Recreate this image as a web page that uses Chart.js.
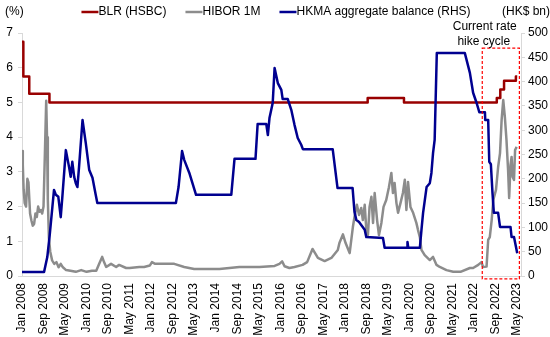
<!DOCTYPE html>
<html>
<head>
<meta charset="utf-8">
<script src="https://cdn.jsdelivr.net/npm/chart.js@4.4.0/dist/chart.umd.min.js"></script>
<style>
body { margin: 0; background: #fff; }
</style>
</head>
<body>
<canvas id="myChart" width="550" height="337"></canvas>
<script>
// x values are months counted from Jan 2008 (0 = Jan 2008)
var tickLabels = ["Jan 2008", "Sep 2008", "May 2009", "Jan 2010", "Sep 2010", "May 2011",
    "Jan 2012", "Sep 2012", "May 2013", "Jan 2014", "Sep 2014", "May 2015",
    "Jan 2016", "Sep 2016", "May 2017", "Jan 2018", "Sep 2018", "May 2019",
    "Jan 2020", "Sep 2020", "May 2021", "Jan 2022", "Sep 2022", "May 2023"];

// BLR (HSBC), %, change dates
var blrMonth = [0, 0.5, 2.7, 10.2, 128.5, 142, 176.5, 177.8, 179.2, 183.6, 184.1];
var blrRate = [6.75, 5.75, 5.25, 5.0, 5.125, 5.0, 5.125, 5.375, 5.625, 5.75, 5.75];

// HIBOR 1M, %
var hiborMonth = [0, 0.3, 0.6, 1.0, 1.5, 2.0, 2.4, 3.0, 3.5, 4.0, 4.5, 5.0, 5.5, 6.0, 6.5, 7.0, 7.5, 8.0,
    8.5, 9.0, 9.3, 9.6, 10.0, 10.5, 11.2, 12.0, 12.8, 13.6, 14.4, 15.2, 16.4, 18, 20, 22, 24, 26, 27.6,
    28.7, 29.8, 30.5, 31.3, 33.1, 35.0, 36.1, 38.7, 40, 43.6, 45.4, 47.5, 48.3, 49.5, 51, 56.6, 60.3,
    64, 73.4, 80.8, 88.3, 93.9, 95.7, 96.7, 97.6, 99.4, 101.3, 104.3, 106, 108, 110, 112.5, 115, 117.4,
    118, 119.3, 120.3, 121.8, 123, 123.6, 124.5, 125.3, 126.1, 126.7, 127.4, 128, 128.6, 129.2, 129.9,
    130.5, 131.1, 132, 132.7, 133.6, 134.4, 135.4, 136.4, 137.3, 137.9, 138.5, 139.2, 139.8, 140.7,
    141.6, 142.3, 142.9, 143.5, 144.4, 145.4, 146.6, 147.2, 147.9, 148.5, 149.7, 151.6, 152.8, 154.1,
    155.3, 157.8, 160.3, 163, 166.5, 167.7, 169.6, 170.8, 171.4, 172.7, 173.3, 173.9, 174.6, 175.2,
    176.2, 177, 177.7, 178.3, 178.9, 179.5, 180.1, 180.7, 181.1, 181.6, 182, 182.4, 182.9, 183.3, 183.9];
var hiborRate = [3.6, 3.2, 2.5, 2.1, 2.0, 2.8, 2.7, 1.8, 1.6, 1.45, 1.5, 1.8, 1.7, 2.0, 1.85, 1.9, 1.8, 2.0,
    3.5, 5.05, 4.0, 2.2, 1.1, 0.7, 0.45, 0.35, 0.4, 0.25, 0.35, 0.25, 0.17, 0.15, 0.12, 0.17, 0.12, 0.15, 0.15,
    0.35, 0.55, 0.4, 0.26, 0.35, 0.26, 0.32, 0.23, 0.23, 0.26, 0.26, 0.3, 0.4, 0.35, 0.35, 0.35, 0.26,
    0.2, 0.2, 0.26, 0.26, 0.29, 0.35, 0.42, 0.28, 0.23, 0.26, 0.32, 0.4, 0.78, 0.52, 0.43, 0.52, 0.75,
    0.95, 1.2, 0.95, 0.66, 1.41, 1.7, 2.05, 1.76, 1.96, 1.61, 2.05, 1.33, 1.18, 1.99, 2.28,
    1.53, 2.39, 1.61, 1.18, 1.53, 1.99, 2.19, 2.56, 2.97, 2.39, 2.68, 2.1, 1.82, 2.1,
    2.39, 2.77, 1.9, 2.71, 1.99, 1.82, 1.53, 1.33, 1.12, 0.75, 0.6, 0.46, 0.55, 0.32,
    0.26, 0.17, 0.12, 0.12, 0.23, 0.23, 0.32, 0.4, 0.26, 0.27, 1.04, 1.12, 1.61, 2.19,
    2.48, 3.14, 3.54, 4.5, 5.07, 4.58, 3.92, 3.05, 2.25, 3.2, 3.43, 2.85, 2.77, 3.63, 3.72];

// HKMA aggregate balance, HK$ bn (RHS)
var hkmaMonth = [0, 8.2, 9.4, 10.3, 11.3, 11.9, 12.6, 13.5, 14.4, 15.0, 16.3, 17.5, 18.1, 18.7, 19.4, 20,
    20.6, 21.2, 22.5, 23.7, 25, 26.2, 27.4, 28, 57.2, 58.2, 59.5, 60.3, 62.2, 64.7, 77.8, 79, 86.8, 87.6,
    90.8, 91.4, 92, 93.2, 93.9, 95.1, 96.4, 96.9, 98.8, 100.1, 101.3, 102.5, 103.8, 104.4, 115.5, 117.3,
    122.9, 123.6, 124.3, 125.3, 126.1, 127.4, 128, 134.2, 134.8, 143.2, 143.3, 143.6, 147.9, 148.5, 149.1,
    150.4, 151.6, 152.2, 152.8, 153.4, 154.2, 164.6, 166.5, 167.7, 169, 170, 172.1, 172.2, 173.3, 173.7,
    174.3, 174.9, 175.4, 177, 177.7, 181.6, 182, 182.9, 184.1];
var hkmaBalance = [8, 8, 39, 84, 142, 177, 167, 163, 121, 163, 259, 224, 204, 235, 204, 191,
    183, 224, 321, 274, 218, 202, 167, 150, 150, 183, 257, 239, 212, 167, 167, 241, 241, 313,
    313, 290, 325, 356, 428, 397, 383, 364, 364, 342, 311, 284, 270, 261, 261, 181,
    181, 132, 115, 111, 105, 95, 80, 78, 58, 58, 70, 58, 58, 95, 130,
    183, 191, 212, 253, 280, 459, 459, 418, 377, 356, 337, 337, 321, 321, 235,
    230, 171, 130, 130, 101, 101, 80, 80, 47];

// current rate hike cycle box: months and RHS range
var hikeMonths = [171.1, 184.9];
var hikeRange = [-6, 469];

function toPoints(xs, ys) {
    return xs.map(function (x, i) { return {x: x, y: ys[i]}; });
}

var FONT = '"Liberation Sans", Arial, sans-serif';
Chart.defaults.font.family = FONT;
Chart.defaults.font.size = 12;
Chart.defaults.color = '#000';

// legend, axis titles and the hike-cycle box
var extras = {
    id: 'extras',
    afterDraw: function (chart) {
        var c = chart.ctx;
        c.save();
        c.font = '12px ' + FONT;
        c.fillStyle = '#000';
        c.textBaseline = 'middle';
        c.textAlign = 'left';
        c.fillText('(%)', 5, 12);
        c.fillText('(HK$ bn)', 502, 12);

        var ds = chart.data.datasets;
        var sample = 17, gap = 19, total = gap * (ds.length - 1);
        ds.forEach(function (d) { total += sample + c.measureText(d.label).width; });
        var x = 276 - total / 2;
        ds.forEach(function (d) {
            c.strokeStyle = d.borderColor;
            c.lineWidth = 2.5;
            c.beginPath();
            c.moveTo(x, 12);
            c.lineTo(x + sample, 12);
            c.stroke();
            c.fillText(d.label, x + sample, 12);
            x += sample + c.measureText(d.label).width + gap;
        });

        var xs = chart.scales.x, yr = chart.scales.y1;
        var l = xs.getPixelForValue(hikeMonths[0]), r = xs.getPixelForValue(hikeMonths[1]);
        var t = yr.getPixelForValue(hikeRange[1]), b = yr.getPixelForValue(hikeRange[0]);
        c.strokeStyle = '#ff0000';
        c.lineWidth = 1.2;
        c.setLineDash([3, 2]);
        c.strokeRect(l, t, r - l, b - t);
        c.setLineDash([]);
        c.textAlign = 'center';
        c.fillText('Current rate', l + 2.5, t - 21);
        c.fillText('hike cycle', l + 1.5, t - 6);
        c.restore();
    }
};

var ctx = document.getElementById("myChart");
var myChart = new Chart(ctx, {
    type: 'line',
    data: {
        datasets: [{
            label: 'BLR (HSBC)',
            data: toPoints(blrMonth, blrRate),
            borderColor: '#990000',
            borderWidth: 2.5,
            stepped: 'before',
            yAxisID: 'y',
            order: 2
        }, {
            label: 'HIBOR 1M',
            data: toPoints(hiborMonth, hiborRate),
            borderColor: '#8c8c8c',
            borderWidth: 2.5,
            yAxisID: 'y',
            order: 1
        }, {
            label: 'HKMA aggregate balance (RHS)',
            data: toPoints(hkmaMonth, hkmaBalance),
            borderColor: '#000090',
            borderWidth: 2.5,
            yAxisID: 'y1',
            order: 0
        }]
    },
    options: {
        responsive: false,
        devicePixelRatio: 1,
        animation: false,
        layout: { padding: { top: 33, left: 0, right: 0, bottom: 0 } },
        elements: {
            point: { radius: 0 },
            line: { tension: 0, borderJoinStyle: 'round', fill: false }
        },
        plugins: {
            legend: { display: false },
            tooltip: { enabled: false }
        },
        scales: {
            x: {
                type: 'linear',
                min: 0,
                max: 185.5,
                afterFit: function (s) { s.height = 61; },
                grid: { display: false, drawTicks: false },
                border: { color: '#d9d9d9' },
                ticks: {
                    stepSize: 8,
                    includeBounds: false,
                    autoSkip: false,
                    minRotation: 90,
                    maxRotation: 90,
                    padding: 7,
                    callback: function (v) { return tickLabels[v / 8] || ''; }
                }
            },
            y: {
                position: 'left',
                min: 0,
                max: 7,
                afterFit: function (s) { s.width = 22; },
                grid: { drawOnChartArea: false, tickLength: 4, color: '#d9d9d9' },
                border: { color: '#d9d9d9' },
                ticks: { stepSize: 1, padding: 5 }
            },
            y1: {
                position: 'right',
                min: 0,
                max: 500,
                afterFit: function (s) { s.width = 29; },
                grid: { drawOnChartArea: false, tickLength: 4, color: '#d9d9d9' },
                border: { color: '#d9d9d9' },
                ticks: { stepSize: 50, padding: 3 }
            }
        }
    },
    plugins: [extras]
});
</script>
</body>
</html>
